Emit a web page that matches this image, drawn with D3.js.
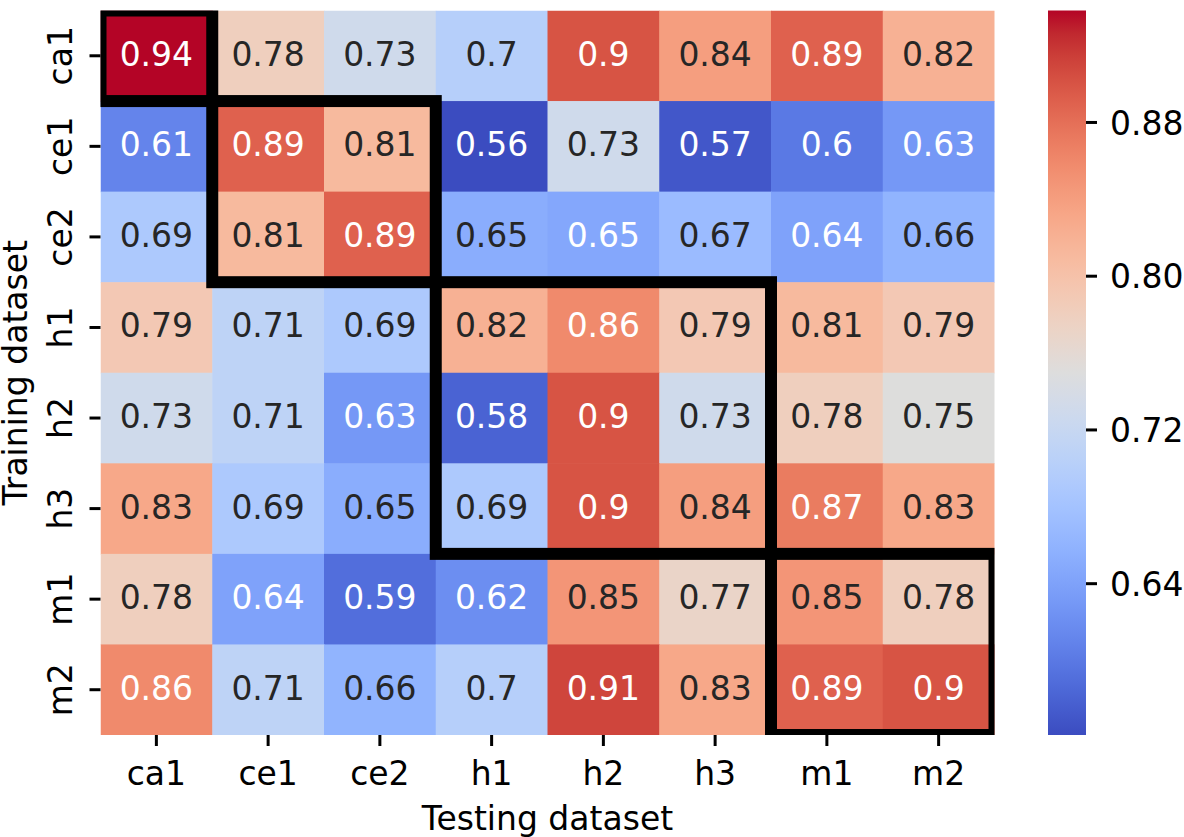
<!DOCTYPE html>
<html><head><meta charset="utf-8">
<script src="https://cdn.jsdelivr.net/npm/d3@7"></script>
<style>
body{margin:0;background:#fff}
svg{display:block}
text{font-family:"DejaVu Sans",sans-serif}
</style>
</head><body><svg id="chart" width="1184" height="837"></svg>
<script>
// ---- data ----
const testingSets = ["ca1","ce1","ce2","h1","h2","h3","m1","m2"];
const trainingSets = ["ca1","ce1","ce2","h1","h2","h3","m1","m2"];
const trainCa1 = [0.938,0.78,0.73,0.70,0.90,0.84,0.89,0.82];
const trainCe1 = [0.61,0.89,0.81,0.561,0.73,0.57,0.60,0.63];
const trainCe2 = [0.69,0.81,0.89,0.652,0.646,0.67,0.64,0.66];
const trainH1  = [0.79,0.71,0.69,0.82,0.858,0.79,0.81,0.79];
const trainH2  = [0.73,0.71,0.63,0.58,0.90,0.73,0.78,0.75];
const trainH3  = [0.83,0.69,0.652,0.69,0.90,0.84,0.87,0.83];
const trainM1  = [0.78,0.64,0.59,0.62,0.848,0.77,0.848,0.78];
const trainM2  = [0.858,0.71,0.66,0.70,0.91,0.83,0.89,0.90];
const colorbarTicks = [0.64,0.72,0.80,0.88];
const blockFirst = ["ca1","ce1","h1","m1"];
const blockLast  = ["ca1","ce2","h3","m2"];

const rows = [trainCa1,trainCe1,trainCe2,trainH1,trainH2,trainH3,trainM1,trainM2];
const cells = [];
rows.forEach((r,i)=>r.forEach((v,j)=>cells.push({train:trainingSets[i],test:testingSets[j],v})));

// ---- matplotlib coolwarm colormap ----
const cwR=[0.2298057,0.26623388,0.30386891,0.342804478,0.38301334,0.424369608,0.46666708,0.509635204,0.552953156,0.596262162,0.639176211,0.681291281,0.722193294,0.761464949,0.798691636,0.833466556,0.865395197,0.897787179,0.924127593,0.944468518,0.958852946,0.96732803,0.969954137,0.966811177,0.958003065,0.943660866,0.923944917,0.89904617,0.869186849,0.834620542,0.795631745,0.752534934,0.705673158];
const cwG=[0.298717966,0.353094838,0.406535296,0.458757618,0.50941904,0.558148092,0.604562568,0.648280772,0.688929332,0.726149107,0.759599947,0.788964712,0.813952739,0.834302879,0.849786142,0.860207984,0.86541021,0.848937047,0.827384882,0.800927443,0.769767752,0.734132809,0.694266682,0.650421156,0.602842431,0.551750968,0.49730856,0.439559467,0.378313092,0.312874446,0.24128379,0.157246067,0.01555616];
const cwB=[0.753683153,0.801466763,0.84495867,0.883725899,0.917387822,0.945619588,0.968154911,0.98478814,0.995375608,0.999836203,0.998151185,0.990363227,0.976574709,0.956945269,0.931688648,0.901068838,0.865395561,0.820880546,0.774508472,0.726736146,0.678007945,0.628751763,0.579375448,0.530263762,0.481775914,0.434243684,0.387970225,0.343229596,0.300267182,0.259301199,0.220525627,0.184115123,0.150232812];
const cwPos = cwR.map((_,i)=>i/32);
const coolwarm = d3.scaleLinear().domain(cwPos)
  .range(cwPos.map((_,i)=>d3.rgb(cwR[i]*255,cwG[i]*255,cwB[i]*255).toString()))
  .interpolate(d3.interpolateRgb).clamp(true);

const extent = d3.extent(cells,d=>d.v);
const norm = d3.scaleLinear().domain(extent).range([0,1]);
const colorOf = v => coolwarm(norm(v));
function lum(c){
  const f=x=>{x/=255;return x<=0.03928?x/12.92:Math.pow((x+0.055)/1.055,2.4);};
  const r=d3.rgb(c);return 0.2126*f(r.r)+0.7152*f(r.g)+0.0722*f(r.b);
}

// ---- layout ----
const X0=100.5,X1=994.5,Y0=10.5,Y1=735;
const CBX0=1048,CBX1=1086;
const svg=d3.select("#chart");
const x=d3.scaleBand().domain(testingSets).range([X0,X1]);
const y=d3.scaleBand().domain(trainingSets).range([Y0,Y1]);

svg.append("defs").append("clipPath").attr("id","hm")
  .append("rect").attr("x",X0).attr("y",Y0).attr("width",X1-X0).attr("height",Y1-Y0);

const hm=svg.append("g").attr("clip-path","url(#hm)");
hm.selectAll("rect.cell").data(cells).join("rect").attr("class","cell")
  .attr("x",d=>x(d.test)).attr("y",d=>y(d.train))
  .attr("width",x.bandwidth()+0.6).attr("height",y.bandwidth()+0.6)
  .attr("fill",d=>colorOf(d.v));

const fmt=d3.format(".2~g");
svg.append("g").selectAll("text").data(cells).join("text")
  .attr("x",d=>x(d.test)+x.bandwidth()/2)
  .attr("y",d=>y(d.train)+y.bandwidth()/2+10)
  .attr("text-anchor","middle").attr("font-size",33)
  .attr("fill",d=>lum(colorOf(d.v))>0.408?"#262626":"#ffffff")
  .text(d=>fmt(d.v));

// highlight blocks
hm.selectAll("rect.block").data(blockFirst).join("rect").attr("class","block")
  .attr("x",(d,i)=>x(d)).attr("y",(d,i)=>y(d))
  .attr("width",(d,i)=>x(blockLast[i])+x.bandwidth()-x(d))
  .attr("height",(d,i)=>y(blockLast[i])+y.bandwidth()-y(d))
  .attr("fill","none").attr("stroke","#000").attr("stroke-width",12);

// x axis
const gx=svg.append("g").attr("transform",`translate(0,${Y1})`)
  .call(d3.axisBottom(x).tickSize(11));
gx.select(".domain").remove();
gx.selectAll(".tick line").attr("stroke","#000").attr("stroke-width",3);
gx.selectAll(".tick text").attr("y",50).attr("dy",null).attr("font-size",33)
  .attr("fill","#000").attr("font-family","DejaVu Sans");

// y axis
const gy=svg.append("g").attr("transform",`translate(${X0},0)`)
  .call(d3.axisLeft(y).tickSize(11));
gy.select(".domain").remove();
gy.selectAll(".tick line").attr("stroke","#000").attr("stroke-width",3);
gy.selectAll(".tick text").attr("x",null).attr("dy",null)
  .attr("transform",`translate(${72-X0},0) rotate(-90)`)
  .attr("text-anchor","middle").attr("font-size",33)
  .attr("fill","#000").attr("font-family","DejaVu Sans");

// axis titles
svg.append("text").attr("x",(X0+X1)/2).attr("y",830).attr("text-anchor","middle")
  .attr("font-size",33).attr("fill","#000").text("Testing dataset");
svg.append("text").attr("transform",`translate(27,${(Y0+Y1)/2}) rotate(-90)`)
  .attr("text-anchor","middle").attr("font-size",33).attr("fill","#000").text("Training dataset");

// colorbar
const grad=svg.select("defs").append("linearGradient").attr("id","cbg")
  .attr("x1",0).attr("y1",1).attr("x2",0).attr("y2",0);
grad.selectAll("stop").data(cwPos).join("stop")
  .attr("offset",d=>d).attr("stop-color",d=>coolwarm(d));
svg.append("rect").attr("x",CBX0).attr("y",Y0).attr("width",CBX1-CBX0).attr("height",Y1-Y0)
  .attr("fill","url(#cbg)");
const cb=d3.scaleLinear().domain(extent).range([Y1,Y0]);
const gc=svg.append("g").attr("transform",`translate(${CBX1},0)`)
  .call(d3.axisRight(cb).tickValues(colorbarTicks).tickSize(11).tickFormat(d3.format(".2f")));
gc.select(".domain").remove();
gc.selectAll(".tick line").attr("stroke","#000").attr("stroke-width",3);
gc.selectAll(".tick text").attr("x",24).attr("dy","0.37em").attr("font-size",33)
  .attr("fill","#000").attr("font-family","DejaVu Sans");
</script>
</body></html>
